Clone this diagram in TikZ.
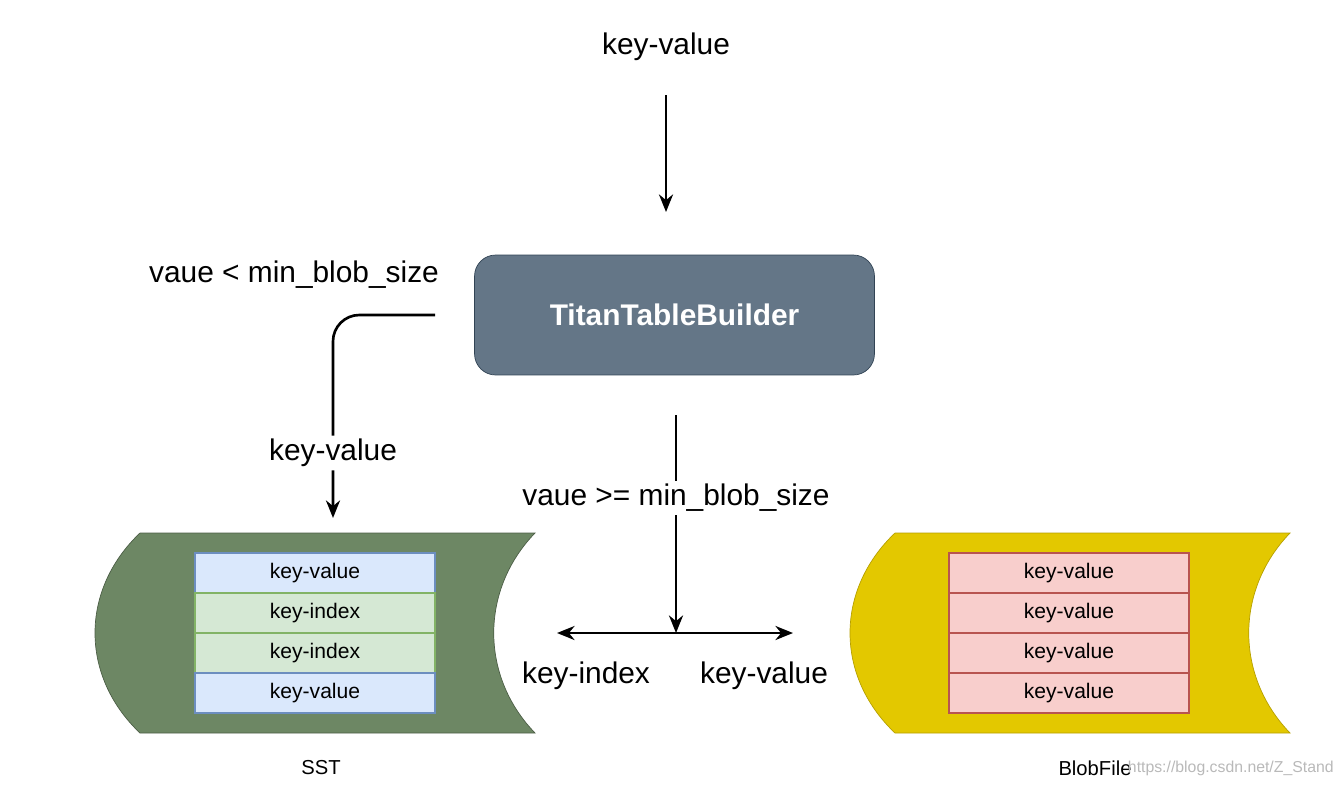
\documentclass[tikz,border=0pt]{standalone}
\usepackage{fontspec}
\setmainfont{Liberation Sans}
\usetikzlibrary{arrows.meta}
\definecolor{builderfill}{HTML}{647687}
\definecolor{builderline}{HTML}{314354}
\definecolor{sstfill}{HTML}{6D8764}
\definecolor{blobfill}{HTML}{E3C800}
\definecolor{kvfill}{HTML}{DAE8FC}
\definecolor{kvline}{HTML}{6C8EBF}
\definecolor{kifill}{HTML}{D5E8D4}
\definecolor{kiline}{HTML}{82B366}
\definecolor{bvfill}{HTML}{F8CECC}
\definecolor{bvline}{HTML}{B85450}
\tikzset{
  big/.style={font=\fontsize{17}{20}\selectfont},
  cell/.style={draw, line width=0.8pt, minimum width=4.8cm, minimum height=0.8cm, font=\fontsize{12}{14}\selectfont, inner sep=0pt},
  flow/.style={line width=1.5pt, -{Stealth[length=10pt,width=8pt]}},
}
\begin{document}
\begin{tikzpicture}[x=0.02cm,y=-0.02cm]
  \useasboundingbox (0,0) rectangle (1342,788);
  % storage shapes
  \filldraw[fill=sstfill, draw=sstfill!70!black] (140,533) -- (535,533) .. controls (480,590) and (480,676) .. (535,733) -- (140,733) .. controls (80,676) and (80,590) .. (140,533) -- cycle;
  \filldraw[fill=blobfill, draw=blobfill!80!black] (895,533) -- (1290,533) .. controls (1235,590) and (1235,676) .. (1290,733) -- (895,733) .. controls (835,676) and (835,590) .. (895,533) -- cycle;
  % sst cells
  \node[cell, fill=kvfill, draw=kvline] (s1) at (315,573) {key-value};
  \node[cell, fill=kifill, draw=kiline] (s2) at (315,613) {key-index};
  \node[cell, fill=kifill, draw=kiline] (s3) at (315,653) {key-index};
  \node[cell, fill=kvfill, draw=kvline] (s4) at (315,693) {key-value};
  % blob cells
  \foreach \i/\y in {1/573,2/613,3/653,4/693}
    \node[cell, fill=bvfill, draw=bvline] (b\i) at (1069,\y) {key-value};
  \node[font=\fontsize{11.5}{13}\selectfont] (sst) at (321,768) {SST};
  \node[font=\fontsize{11.5}{13}\selectfont] (blob) at (1095,768) {BlobFile};
  \node[font=\fontsize{9}{11}\selectfont, text=gray!55, anchor=east, inner sep=0pt] (mark) at (1334,768) {https://blog.csdn.net/Z\_Stand};

  \node[big] (input) at (666,47) {key-value};
  \node[draw=builderline, fill=builderfill, rounded corners=12pt, minimum width=8cm, minimum height=2.4cm,
        text=white, font=\bfseries\fontsize{17}{20}\selectfont] (builder) at (674.5,315) {TitanTableBuilder};
  \node[big] (small) at (294,275) {vaue < min\_blob\_size};

  \coordinate (in) at (666,95);
  \coordinate (intip) at (666,212);
  \draw[flow] (in) -- (intip);

  % small values
  \coordinate (lstart) at (435,315);
  \coordinate (lend) at (333,518);
  \draw[flow, rounded corners=15pt] (lstart) -- (333,315) -- node[pos=0.68, big, fill=white, inner sep=2pt] {key-value} (lend);

  % big values
  \coordinate (rstart) at (676,415);
  \coordinate (split) at (676,633);
  \draw[flow] (rstart) -- node[pos=0.38, big, fill=white, inner sep=2pt] {vaue >= min\_blob\_size} (split);
  \coordinate (toleft) at (557,633);
  \coordinate (toright) at (793,633);
  \draw[flow, {Stealth[length=10pt,width=8pt]}-{Stealth[length=10pt,width=8pt]}] (toleft) -- (toright);
  \node[big] (ki) at (586,676) {key-index};
  \node[big] (kv) at (764,676) {key-value};
\end{tikzpicture}
\end{document}
